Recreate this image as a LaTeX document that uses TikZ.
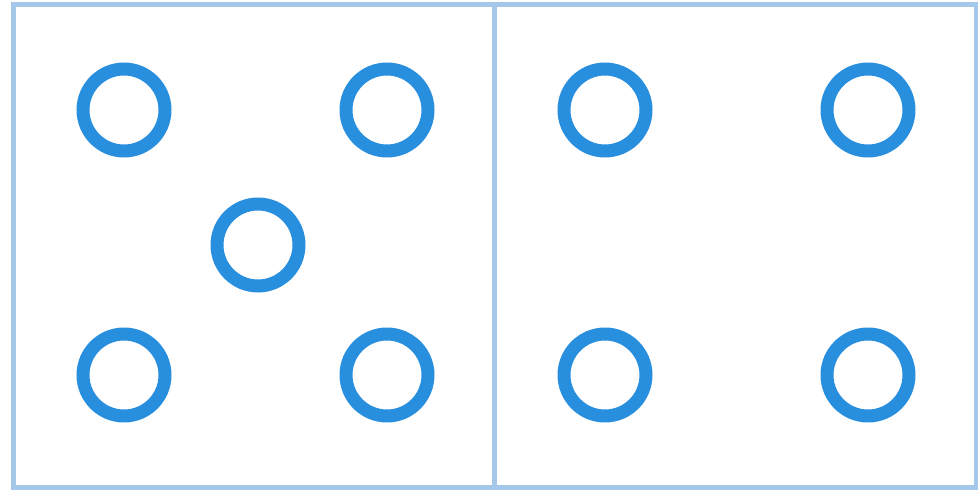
\documentclass[tikz,border=0pt]{standalone}
\usepackage{tikz}
\usetikzlibrary{positioning}

\definecolor{dotblue}{RGB}{40,142,222}
\definecolor{frameblue}{RGB}{164,199,234}

\begin{document}
\begin{tikzpicture}[
    x=0.02cm, y=-0.02cm,
    dotnode/.style={draw=dotblue, circle, line width=7.4pt, minimum size=1.64cm, inner sep=0pt},
    frameline/.style={draw=frameblue, line width=3pt}
]
\useasboundingbox (0,0) rectangle (978,490);

% Frames
\coordinate (tl) at (13.5,4.5);
\coordinate (br) at (976.5,488);
\coordinate (mt) at (494.5,4.5);
\coordinate (mb) at (494.5,488);
\draw[frameline] (tl) rectangle (br);
\draw[frameline] (mt) -- (mb);

% Left panel
\node[dotnode] (l1) at (124,110) {};
\node[dotnode] (l2) at (387,110) {};
\node[dotnode] (l3) at (258,245) {};
\node[dotnode] (l4) at (124,375) {};
\node[dotnode] (l5) at (387,375) {};

% Right panel
\node[dotnode] (r1) at (605,110) {};
\node[dotnode] (r2) at (868,110) {};
\node[dotnode] (r3) at (605,375) {};
\node[dotnode] (r4) at (868,375) {};

\end{tikzpicture}
\end{document}
